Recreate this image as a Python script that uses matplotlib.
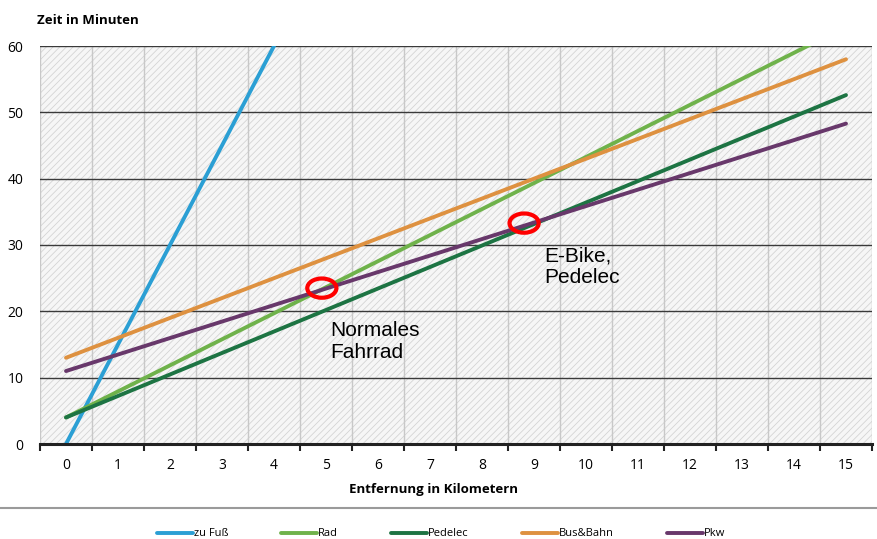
import numpy as np
import matplotlib
matplotlib.use("Agg")
import matplotlib.pyplot as plt
from matplotlib.patches import Ellipse, Rectangle
from matplotlib.lines import Line2D

# Daten
km_fuss = [0, 4]
zu_fuss = [0, 60]
km = [0, 15]
rad = [4, 62.9]
pedelec = [4, 52.6]
bus_bahn = [13, 58]
pkw = [11, 48.3]

x_ticks = list(range(16))
y_ticks = [0, 10, 20, 30, 40, 50, 60]

namen = ["zu Fuß", "Rad", "Pedelec", "Bus&Bahn", "Pkw"]
farben = ["#2b9fd4", "#6fb24b", "#1d7443", "#de9140", "#68386b"]

# Markierte Schnittpunkte
kreise_x = [4.92, 8.81]
kreise_y = [23.5, 33.3]

plt.rcParams['font.family'] = ['Open Sans', 'DejaVu Sans']
plt.rcParams['hatch.linewidth'] = 0.6
plt.rcParams['hatch.color'] = '#d4d4d4'

fig = plt.figure(figsize=(8.78, 5.39), dpi=100)
ax = fig.add_axes([40/878, 95/539, 832/878, 398/539])

ax.set_xlim(-0.5, 15.5)
ax.set_ylim(0, 60)

# Hintergrund schraffiert
ax.set_facecolor('#f6f6f6')
ax.add_patch(Rectangle((-0.5, 0), 16, 60, facecolor='none', hatch='/////',
                       edgecolor='#d4d4d4', linewidth=0, zorder=0))

# Gitter
for xb in np.arange(-0.5, 16, 1):
    ax.axvline(xb, color='#c8c8c8', lw=1, zorder=1)
for yv in y_ticks[1:]:
    ax.axhline(yv, color='#3a3a3a', lw=1, zorder=1)

# Linien
serien = [(km_fuss, zu_fuss), (km, rad), (km, pedelec), (km, bus_bahn), (km, pkw)]
handles = []
for (xs, ys), name, farbe in zip(serien, namen, farben):
    h, = ax.plot(xs, ys, color=farbe, lw=2.8, solid_capstyle='round', zorder=3, label=name)
    handles.append(h)

for cx, cy in zip(kreise_x, kreise_y):
    ax.add_patch(Ellipse((cx, cy), 0.56, 2.9, facecolor='none', edgecolor='#ff0000',
                         lw=3, zorder=5))

ax.text(5.08, 18.6, "Normales\nFahrrad", fontsize=15, family='Liberation Sans',
        va='top', ha='left', linespacing=1.2, zorder=6)
ax.text(9.2, 29.8, "E-Bike,\nPedelec", fontsize=15, family='Liberation Sans',
        va='top', ha='left', linespacing=1.2, zorder=6)

# Achsen
for s in ['top', 'right', 'left']:
    ax.spines[s].set_visible(False)
ax.spines['bottom'].set_linewidth(2.2)
ax.spines['bottom'].set_color('#222222')
ax.spines['bottom'].set_zorder(4)

ax.set_xticks(x_ticks)
ax.set_xticklabels([str(v) for v in x_ticks], fontsize=10)
ax.set_xticks(np.arange(-0.5, 16, 1), minor=True)
ax.tick_params(axis='x', which='major', length=0, pad=10)
ax.tick_params(axis='x', which='minor', length=5, width=1.5, color='#222222', direction='out')
ax.set_yticks(y_ticks)
ax.set_yticklabels([str(v) for v in y_ticks], fontsize=10)
ax.tick_params(axis='y', length=0, pad=12)

fig.text(37/878, 1 - 20/539, "Zeit in Minuten", fontsize=9.5, fontweight='bold',
         va='center', ha='left')
fig.text(434/878, 1 - 490/539, "Entfernung in Kilometern", fontsize=9.5, fontweight='bold',
         va='center', ha='center')

# Trennlinie und Legende
fig.add_artist(Line2D([0, 1], [1 - 508/539, 1 - 508/539], color='#9a9a9a', lw=1.5))
fig.legend(handles, namen, loc='center', bbox_to_anchor=(441/878, 1 - 534/539),
           ncol=5, frameon=False, fontsize=8, handlelength=3.2, handletextpad=0.1,
           columnspacing=4.8)

fig.savefig("out.png", dpi=100)
